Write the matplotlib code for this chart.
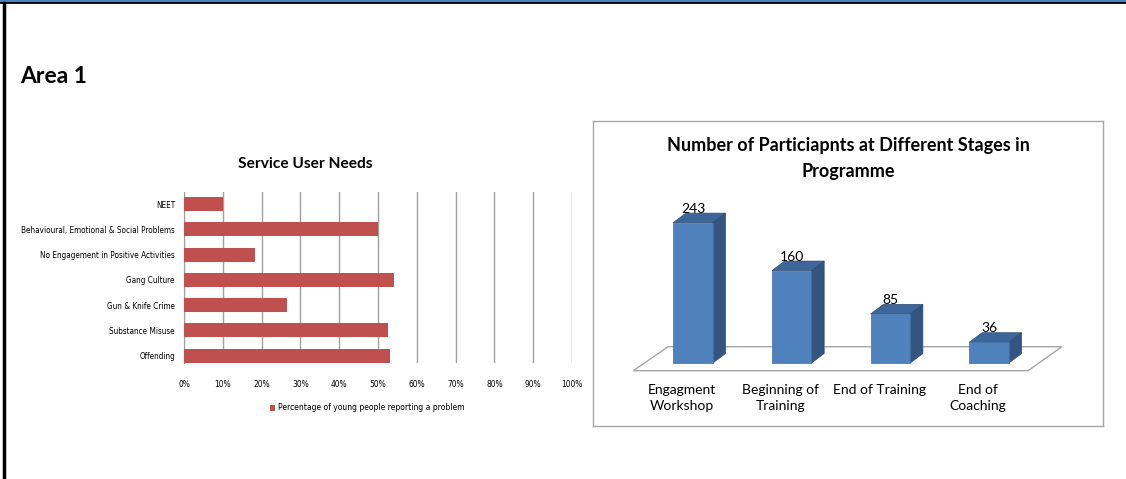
import matplotlib.pyplot as plt
from matplotlib.patches import Polygon
from matplotlib.lines import Line2D

# data
needs = [
    "NEET",
    "Behavioural, Emotional & Social Problems",
    "No Engagement in Positive Activities",
    "Gang Culture",
    "Gun & Knife Crime",
    "Substance Misuse",
    "Offending",
]
need_share = [0.10, 0.50, 0.182, 0.54, 0.266, 0.525, 0.53]

stages = ["Engagment\nWorkshop", "Beginning of\nTraining", "End of Training", "End of\nCoaching"]
participants = [243, 160, 85, 36]

W, H = 1126, 479
FONT = ["Lato", "DejaVu Sans"]

plt.rcParams["font.family"] = FONT

fig = plt.figure(figsize=(W / 100, H / 100), dpi=100)


def fx(px):
    return px / W


def fy(py):
    return 1 - py / H


# page border
fig.add_artist(Line2D([0, 1], [fy(1), fy(1)], color="#4f81bd", lw=2.2))
fig.add_artist(Line2D([0, 1], [fy(3), fy(3)], color="black", lw=1.3))
fig.add_artist(Line2D([fx(4), fx(4)], [0, fy(3)], color="black", lw=2.5))

fig.text(fx(20), fy(76), "Area 1", fontsize=16.5, fontweight="bold", va="center", ha="left")

# ---- left chart: service user needs ----
ax1 = fig.add_axes([fx(184), fy(363), fx(388), 171 / H])
ypos = list(range(len(needs)))
ax1.barh(ypos, need_share, height=0.55, color="#C0504D", zorder=3,
         label="Percentage of young people reporting a problem")
ax1.set_ylim(6.29, -0.475)
ax1.set_xlim(0, 1)
ax1.set_xticks([i / 10 for i in range(11)])
ax1.set_xticklabels([f"{i * 10}%" for i in range(11)], fontsize=6, family="DejaVu Sans",
                    fontstretch="condensed")
ax1.set_yticks(ypos)
ax1.set_yticklabels(needs, fontsize=5.9, family="DejaVu Sans", fontstretch="condensed")
ax1.tick_params(axis="y", length=0, pad=6.5)
ax1.tick_params(axis="x", length=0, pad=12)
ax1.grid(axis="x", color="#a0a0a0", lw=1, zorder=0)
for s in ["top", "right", "bottom"]:
    ax1.spines[s].set_visible(False)
ax1.spines["left"].set_color("#a0a0a0")
ax1.set_facecolor("none")

fig.text(fx(305), fy(164), "Service User Needs", fontsize=11.2, fontweight="bold",
         ha="center", va="center")
fig.legend(loc="center", bbox_to_anchor=(fx(367), fy(408)), frameon=False,
           handlelength=0.7, handleheight=0.7, handletextpad=0.3,
           prop={"family": "DejaVu Sans", "stretch": "condensed", "size": 6.1})

# ---- right chart: 3D-style bars ----
ax2 = fig.add_axes([fx(593), fy(426), fx(510), 305 / H])
ax2.set_xlim(-1.013, 4.154)
ax2.set_ylim(-109, 419)
ax2.set_xticks([])
ax2.set_yticks([])
for s in ax2.spines.values():
    s.set_color("#a6a6a6")
    s.set_linewidth(1)

bw = 0.4      # bar width (category units)
ddx = 0.129   # depth shift in x
ddy = 16.5    # depth shift in value units
n = len(stages)

# floor
floor = Polygon([(-0.605, -13.3), (n - 0.605, -13.3), (n - 0.264, 28.2), (-0.253, 28.2)],
                closed=True, facecolor="white", edgecolor="#a6a6a6", lw=1, zorder=1)
ax2.add_patch(floor)

for i, v in enumerate(participants):
    x0, x1 = i - bw / 2, i + bw / 2
    side = Polygon([(x1, 0), (x1 + ddx, ddy), (x1 + ddx, v + ddy), (x1, v)],
                   facecolor="#33557f", edgecolor="#2c4a70", lw=0.5, zorder=2)
    top = Polygon([(x0, v), (x1, v), (x1 + ddx, v + ddy), (x0 + ddx, v + ddy)],
                  facecolor="#3d679b", edgecolor="#2c4a70", lw=0.5, zorder=2)
    front = Polygon([(x0, 0), (x1, 0), (x1, v), (x0, v)],
                    facecolor="#4f81bd", edgecolor="#3f6ea6", lw=0.5, zorder=3)
    for p in (side, top, front):
        ax2.add_patch(p)
    ax2.text(i, v + 24, str(v), ha="center", va="center", fontsize=10, zorder=4)
    ax2.text(i - 0.11, -36, stages[i], ha="center", va="top", fontsize=10,
             linespacing=1.45)

ax2.text(0.5, 0.877, "Number of Particiapnts at Different Stages in\nProgramme",
         transform=ax2.transAxes, ha="center", va="center", fontsize=13,
         fontweight="bold", linespacing=1.6)

fig.savefig("out.png", dpi=100)
